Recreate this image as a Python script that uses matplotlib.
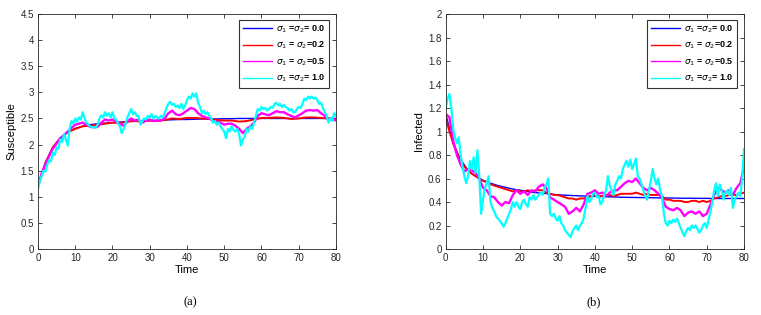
import numpy as np
import matplotlib
matplotlib.use('Agg')
import matplotlib.pyplot as plt

plt.rcParams['font.family'] = ['Liberation Sans', 'DejaVu Sans']
plt.rcParams['mathtext.fontset'] = 'dejavusans'

# ---- panel (a): Susceptible ----
S_blue = [1.2, 1.65, 1.95, 2.13, 2.24, 2.31, 2.35, 2.38, 2.4, 2.41, 2.42, 2.43, 2.44, 2.45,
          2.455, 2.46, 2.465, 2.47, 2.475, 2.48, 2.48, 2.485, 2.49, 2.49, 2.49, 2.495, 2.495,
          2.5, 2.5, 2.5, 2.5, 2.5, 2.5, 2.5, 2.5, 2.5, 2.5, 2.5, 2.5, 2.5, 2.5]
S_red = [1.2, 1.65, 1.95, 2.12, 2.24, 2.3, 2.35, 2.36, 2.38, 2.4, 2.42, 2.41, 2.44, 2.45,
         2.44, 2.46, 2.45, 2.47, 2.5, 2.49, 2.51, 2.51, 2.5, 2.49, 2.47, 2.46, 2.46, 2.44,
         2.45, 2.48, 2.51, 2.51, 2.52, 2.51, 2.49, 2.5, 2.52, 2.52, 2.51, 2.5, 2.48]
S_mag = [1.2, 1.45, 1.62, 1.78, 1.92, 2.02, 2.12, 2.18, 2.25, 2.32, 2.38, 2.4, 2.42, 2.38,
         2.34, 2.33, 2.34, 2.42, 2.48, 2.46, 2.48, 2.44, 2.4, 2.36, 2.44, 2.5, 2.46, 2.48,
         2.42, 2.46, 2.48, 2.45, 2.46, 2.46, 2.5, 2.6, 2.65, 2.58, 2.56, 2.6, 2.65, 2.7,
         2.68, 2.6, 2.55, 2.52, 2.5, 2.45, 2.44, 2.42, 2.38, 2.4, 2.4, 2.36, 2.3, 2.22,
         2.3, 2.35, 2.42, 2.55, 2.6, 2.58, 2.56, 2.6, 2.64, 2.62, 2.62, 2.58, 2.55, 2.52,
         2.56, 2.6, 2.65, 2.66, 2.65, 2.66, 2.6, 2.55, 2.48, 2.5, 2.46]
S_cyan = [1.15, 1.3, 1.4, 1.5, 1.48, 1.62, 1.7, 1.68, 1.85, 1.8, 1.95, 1.92, 2.1, 2.05,
          2.2, 2.1, 1.98, 2.3, 2.45, 2.4, 2.5, 2.44, 2.52, 2.48, 2.62, 2.5, 2.42, 2.38,
          2.35, 2.33, 2.34, 2.32, 2.38, 2.5, 2.56, 2.52, 2.62, 2.55, 2.6, 2.52, 2.62, 2.5,
          2.48, 2.4, 2.35, 2.22, 2.3, 2.4, 2.52, 2.6, 2.68, 2.58, 2.62, 2.55, 2.55, 2.38,
          2.45, 2.5, 2.48, 2.55, 2.52, 2.58, 2.5, 2.55, 2.52, 2.5, 2.55, 2.52, 2.6, 2.7,
          2.78, 2.82, 2.76, 2.78, 2.72, 2.75, 2.7, 2.78, 2.68, 2.75, 2.85, 2.92, 2.88, 2.98,
          2.92, 2.98, 2.8, 2.72, 2.6, 2.65, 2.58, 2.62, 2.55, 2.5, 2.42, 2.45, 2.38, 2.42,
          2.35, 2.3, 2.25, 2.12, 2.3, 2.25, 2.35, 2.28, 2.25, 2.3, 2.2, 1.98, 2.1, 2.15,
          2.3, 2.25, 2.35, 2.3, 2.42, 2.55, 2.68, 2.65, 2.72, 2.68, 2.7, 2.65, 2.68, 2.72,
          2.7, 2.78, 2.8, 2.75, 2.78, 2.72, 2.76, 2.72, 2.7, 2.65, 2.68, 2.62, 2.62, 2.68,
          2.72, 2.7, 2.78, 2.88, 2.85, 2.92, 2.88, 2.92, 2.88, 2.9, 2.85, 2.78, 2.8, 2.7,
          2.62, 2.55, 2.42, 2.5, 2.45, 2.6, 2.55]

# ---- panel (b): Infected ----
I_blue = [1.15, 0.9, 0.76, 0.67, 0.62, 0.585, 0.56, 0.54, 0.525, 0.51, 0.5, 0.49, 0.48,
          0.475, 0.468, 0.462, 0.458, 0.455, 0.452, 0.45, 0.448, 0.446, 0.444, 0.442, 0.44,
          0.439, 0.438, 0.437, 0.436, 0.435, 0.434, 0.433, 0.432, 0.432, 0.431, 0.431,
          0.43, 0.43, 0.43, 0.43, 0.43]
I_red = [1.12, 1.0, 0.9, 0.82, 0.75, 0.7, 0.67, 0.64, 0.62, 0.6, 0.58, 0.57, 0.55, 0.54,
         0.53, 0.52, 0.51, 0.5, 0.49, 0.5, 0.49, 0.49, 0.5, 0.49, 0.5, 0.5, 0.5, 0.48, 0.47,
         0.46, 0.46, 0.45, 0.44, 0.43, 0.43, 0.42, 0.43, 0.43, 0.44, 0.45, 0.46, 0.45, 0.45,
         0.46, 0.46, 0.45, 0.46, 0.47, 0.47, 0.47, 0.47, 0.48, 0.47, 0.46, 0.47, 0.46, 0.46,
         0.46, 0.45, 0.42, 0.42, 0.41, 0.41, 0.41, 0.4, 0.4, 0.41, 0.41, 0.4, 0.41, 0.4,
         0.41, 0.43, 0.44, 0.45, 0.45, 0.46, 0.46, 0.46, 0.47, 0.48]
I_mag = [1.15, 1.12, 0.92, 0.8, 0.72, 0.66, 0.68, 0.67, 0.65, 0.6, 0.52, 0.5, 0.45, 0.44,
         0.4, 0.37, 0.4, 0.39, 0.46, 0.5, 0.47, 0.49, 0.46, 0.5, 0.49, 0.53, 0.55, 0.52,
         0.44, 0.42, 0.4, 0.38, 0.36, 0.3, 0.32, 0.35, 0.32, 0.38, 0.47, 0.48, 0.5, 0.47,
         0.48, 0.45, 0.48, 0.5, 0.5, 0.53, 0.56, 0.58, 0.57, 0.6, 0.56, 0.52, 0.5, 0.52,
         0.5, 0.47, 0.44, 0.36, 0.34, 0.33, 0.35, 0.33, 0.28, 0.31, 0.32, 0.3, 0.32, 0.28,
         0.3, 0.38, 0.46, 0.52, 0.5, 0.48, 0.5, 0.46, 0.52, 0.56, 0.7]
I_cyan = [1.2, 1.28, 1.32, 1.2, 1.02, 0.95, 0.9, 0.95, 0.8, 0.7, 0.62, 0.56, 0.62, 0.75,
          0.68, 0.78, 0.65, 0.84, 0.62, 0.3, 0.42, 0.52, 0.56, 0.62, 0.4, 0.35, 0.32, 0.28,
          0.26, 0.24, 0.22, 0.19, 0.22, 0.26, 0.3, 0.34, 0.4, 0.36, 0.4, 0.36, 0.34, 0.4,
          0.42, 0.38, 0.36, 0.44, 0.42, 0.46, 0.42, 0.44, 0.46, 0.48, 0.46, 0.52, 0.55, 0.6,
          0.3, 0.28, 0.3, 0.26, 0.24, 0.28, 0.22, 0.2, 0.16, 0.14, 0.12, 0.1, 0.15, 0.18,
          0.2, 0.16, 0.2, 0.22, 0.26, 0.35, 0.45, 0.4, 0.42, 0.47, 0.48, 0.44, 0.45, 0.38,
          0.4, 0.46, 0.5, 0.62, 0.54, 0.5, 0.46, 0.55, 0.58, 0.62, 0.6, 0.68, 0.72, 0.75,
          0.7, 0.76, 0.68, 0.72, 0.77, 0.62, 0.6, 0.55, 0.5, 0.45, 0.42, 0.5, 0.58, 0.68,
          0.6, 0.55, 0.6, 0.5, 0.45, 0.3, 0.22, 0.2, 0.24, 0.22, 0.25, 0.23, 0.26, 0.22,
          0.18, 0.14, 0.11, 0.15, 0.18, 0.16, 0.2, 0.18, 0.2, 0.17, 0.14, 0.16, 0.2, 0.22,
          0.18, 0.25, 0.32, 0.4, 0.5, 0.56, 0.45, 0.55, 0.5, 0.42, 0.48, 0.5, 0.46, 0.52,
          0.35, 0.42, 0.45, 0.48, 0.45, 0.6, 0.85]

labels = [r'$\sigma_1$ =$\sigma_2$= 0.0', r'$\sigma_1$ = $\sigma_2$=0.2',
          r'$\sigma_1$ = $\sigma_2$=0.5', r'$\sigma_1$ =$\sigma_2$= 1.0']
colors = ['blue', 'red', 'magenta', 'cyan']
widths = [1.0, 1.4, 1.7, 1.6]

fig = plt.figure(figsize=(7.61, 3.15), dpi=100)
ax1 = fig.add_axes([0.0499, 0.2095, 0.3916, 0.746])
ax2 = fig.add_axes([0.5857, 0.2095, 0.3920, 0.746])

panels = [
    (ax1, [S_blue, S_red, S_mag, S_cyan], 'Susceptible', 4.5, 0.5),
    (ax2, [I_blue, I_red, I_mag, I_cyan], 'Infected', 2.0, 0.2),
]

for ax, series, ylab, ymax, ystep in panels:
    for vals, c, lw, lab in zip(series, colors, widths, labels):
        t = np.linspace(0, 80, len(vals))
        ax.plot(t, vals, color=c, lw=lw, label=lab)
    ax.set_xlim(0, 80)
    ax.set_ylim(0, ymax)
    ax.set_xticks(np.arange(0, 81, 10))
    ax.set_yticks(np.arange(0, ymax + 1e-9, ystep))
    ax.set_yticklabels(['%g' % v for v in np.arange(0, ymax + 1e-9, ystep)])
    ax.tick_params(direction='in', top=True, right=True, labelsize=7,
                   length=3, width=0.6, colors='#262626', pad=3)
    for sp in ax.spines.values():
        sp.set_linewidth(0.6)
        sp.set_color('#262626')
    ax.set_xlabel('Time', fontsize=8, labelpad=1)
    ax.set_ylabel(ylab, fontsize=8, labelpad=3)
    leg = ax.legend(loc='upper right', bbox_to_anchor=(0.978, 0.975),
                    prop={'size': 6.5, 'weight': 'bold'},
                    frameon=True, fancybox=False, edgecolor='black', handlelength=3.2,
                    borderpad=0.4, labelspacing=0.55, handletextpad=0.5,
                    borderaxespad=0)
    leg.get_frame().set_linewidth(0.8)
    for line in leg.get_lines():
        line.set_linewidth(1.0)

fig.text(0.25, 0.041, '(a)', fontsize=9, family='Liberation Serif', ha='center', va='center')
fig.text(0.78, 0.041, '(b)', fontsize=9, family='Liberation Serif', ha='center', va='center')

fig.savefig('out.png', dpi=100)
